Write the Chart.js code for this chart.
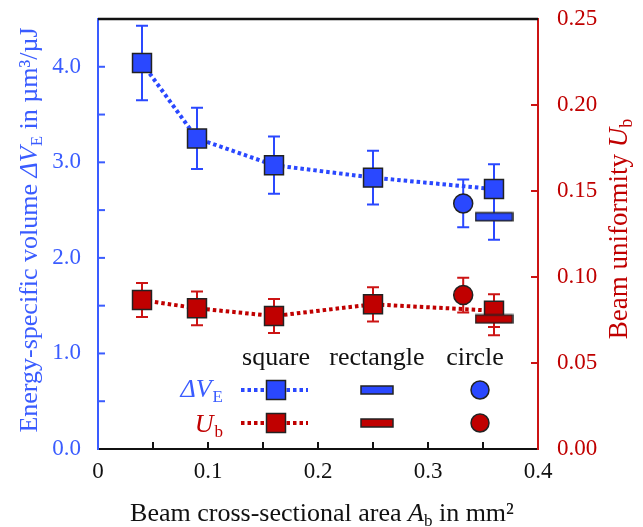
<!DOCTYPE html>
<html>
<head>
<meta charset="utf-8">
<script src="https://cdn.jsdelivr.net/npm/chart.js@4.4.0/dist/chart.umd.min.js"></script>
<style>
  html, body { margin: 0; padding: 0; background: #fff; }
  #wrap { width: 643px; height: 527px; }
</style>
</head>
<body>
<div id="wrap"><canvas id="chart" width="643" height="527"></canvas></div>
<script>
// beam cross-sectional area A_b in mm^2
const areaSquare = [0.04, 0.09, 0.16, 0.25, 0.36];
const areaRect = [0.36];
const areaCircle = [0.332];

// energy-specific volume dV_E in um^3/uJ (left axis)
const volSquare = [4.04, 3.25, 2.97, 2.84, 2.72];
const volSquareErr = [0.39, 0.32, 0.30, 0.28, 0.26];
const volRect = [2.43];
const volRectErr = [0.24];
const volCircle = [2.57];
const volCircleErr = [0.25];

// beam uniformity U_b (right axis)
const uniSquare = [0.0866, 0.0818, 0.0773, 0.0841, 0.0804];
const uniSquareErr = [0.0099, 0.0098, 0.0099, 0.0099, 0.0095];
const uniRect = [0.0756];
const uniRectErr = [0.0095];
const uniCircle = [0.0895];
const uniCircleErr = [0.0101];

// tick labels
const xTickLabels = ['0', '0.1', '0.2', '0.3', '0.4'];
const leftTickLabels = ['0.0', '1.0', '2.0', '3.0', '4.0'];
const rightTickLabels = ['0.00', '0.05', '0.10', '0.15', '0.20', '0.25'];

const BLUE = '#2a48ff';
const BLUE_TXT = '#3a5cff';
const RED = '#c00000';
const RED_AX = '#cc1414';
const EDGE = '#222';
const SERIF = '"Liberation Serif", "Times New Roman", serif';
const PLOT_TOP = 19;

function pts(xs, ys) {
  return xs.map((x, i) => ({ x: x, y: ys[i] }));
}

function barMarker(fill) {
  const c = document.createElement('canvas');
  c.width = 39; c.height = 11;
  const g = c.getContext('2d');
  g.fillStyle = fill;
  g.strokeStyle = EDGE;
  g.lineWidth = 1.5;
  g.fillRect(1, 1.5, 37, 8);
  g.strokeRect(1, 1.5, 37, 8);
  return c;
}

// draws a line of text made of parts with different fonts (sub/superscripts)
function richText(ctx, parts, x, y, align, angle) {
  ctx.save();
  ctx.translate(x, y);
  ctx.rotate(angle || 0);
  ctx.textBaseline = 'alphabetic';
  ctx.textAlign = 'left';
  let total = 0;
  parts.forEach(p => { ctx.font = p.font; total += ctx.measureText(p.text).width + (p.gap || 0); });
  let cx = align === 'center' ? -total / 2 : (align === 'right' ? -total : 0);
  parts.forEach(p => {
    ctx.font = p.font;
    ctx.fillStyle = p.color;
    ctx.fillText(p.text, cx, p.dy || 0);
    cx += ctx.measureText(p.text).width + (p.gap || 0);
  });
  ctx.restore();
}

// keep the axes from reserving extra room for overhanging tick labels
function fixWidth(w) {
  return function(s) {
    s.width = w;
    s.paddingTop = 0;
    s.paddingBottom = 0;
  };
}

const errorBars = {
  id: 'errorBars',
  beforeDatasetsDraw(chart) {
    const ctx = chart.ctx;
    chart.data.datasets.forEach((ds, i) => {
      if (!ds.errors) return;
      const meta = chart.getDatasetMeta(i);
      const ys = chart.scales[ds.yAxisID];
      ctx.save();
      ctx.strokeStyle = ds.errorColor;
      ctx.lineWidth = 2;
      meta.data.forEach((pt, j) => {
        const v = ds.data[j].y, e = ds.errors[j];
        const top = ys.getPixelForValue(v + e);
        const bot = ys.getPixelForValue(v - e);
        const x = pt.x;
        ctx.beginPath();
        ctx.moveTo(x, top); ctx.lineTo(x, bot);
        ctx.moveTo(x - 6, top); ctx.lineTo(x + 6, top);
        ctx.moveTo(x - 6, bot); ctx.lineTo(x + 6, bot);
        ctx.stroke();
      });
      ctx.restore();
    });
  }
};

const frame = {
  id: 'frame',
  afterDraw(chart) {
    const { ctx, chartArea: a, scales } = chart;
    ctx.save();
    // top border
    ctx.strokeStyle = '#111';
    ctx.lineWidth = 2.5;
    ctx.beginPath(); ctx.moveTo(a.left, a.top); ctx.lineTo(a.right, a.top); ctx.stroke();

    // inward ticks
    ctx.lineWidth = 2;
    const tick = (x1, y1, x2, y2, col) => {
      ctx.strokeStyle = col;
      ctx.beginPath(); ctx.moveTo(x1, y1); ctx.lineTo(x2, y2); ctx.stroke();
    };
    scales.x.ticks.forEach((t, i, arr) => {
      if (i === 0 || i === arr.length - 1) return;
      const p = scales.x.getPixelForValue(t.value);
      tick(p, a.bottom, p, a.bottom - 7, '#111');
    });
    scales.y.ticks.forEach((t, i, arr) => {
      if (i === 0 || i === arr.length - 1) return;
      const p = scales.y.getPixelForValue(t.value);
      tick(a.left, p, a.left + 7, p, BLUE_TXT);
    });
    scales.y2.ticks.forEach((t, i, arr) => {
      if (i === 0 || i === arr.length - 1) return;
      const p = scales.y2.getPixelForValue(t.value);
      tick(a.right, p, a.right - 7, p, RED_AX);
    });

    // axis titles
    const f = (s, st) => (st || '') + ' ' + s + 'px ' + SERIF;
    richText(ctx, [
      { text: 'Energy-specific volume ', font: f(26), color: BLUE_TXT },
      { text: '\u0394V', font: f(26, 'italic'), color: BLUE_TXT },
      { text: 'E', font: f(17), color: BLUE_TXT, dy: 5 },
      { text: ' in \u00b5m\u00b3/\u00b5J', font: f(26), color: BLUE_TXT }
    ], 37, (a.top + a.bottom) / 2 - 4, 'center', -Math.PI / 2);
    richText(ctx, [
      { text: 'Beam uniformity ', font: f(27), color: RED },
      { text: 'U', font: f(27, 'italic'), color: RED },
      { text: 'b', font: f(18), color: RED, dy: 5 }
    ], 627, (a.top + a.bottom) / 2 - 5, 'center', -Math.PI / 2);
    richText(ctx, [
      { text: 'Beam cross-sectional area ', font: f(26), color: '#111' },
      { text: 'A', font: f(26, 'italic'), color: '#111' },
      { text: 'b', font: f(17), color: '#111', dy: 5 },
      { text: ' in mm\u00b2', font: f(26), color: '#111' }
    ], (a.left + a.right) / 2 + 4, 521, 'center', 0);

    // legend table
    const hx = [276, 377, 480];
    ctx.fillStyle = '#111';
    ctx.font = f(26);
    ctx.textAlign = 'center';
    ctx.textBaseline = 'alphabetic';
    ctx.fillText('square', hx[0], 365);
    ctx.fillText('rectangle', hx[1], 365);
    ctx.fillText('circle', hx[2] - 5, 365);

    richText(ctx, [
      { text: '\u0394V', font: f(26, 'italic'), color: BLUE_TXT, gap: 1 },
      { text: 'E', font: f(17), color: BLUE_TXT, dy: 5 }
    ], 223, 397, 'right', 0);
    richText(ctx, [
      { text: 'U', font: f(26, 'italic'), color: RED, gap: 1 },
      { text: 'b', font: f(17), color: RED, dy: 5 }
    ], 223, 432, 'right', 0);

    const rows = [[390, BLUE], [423, RED]];
    rows.forEach(r => {
      const y = r[0], col = r[1];
      ctx.strokeStyle = col;
      ctx.lineWidth = 4;
      ctx.setLineDash([3.5, 3]);
      ctx.beginPath(); ctx.moveTo(241, y); ctx.lineTo(308, y); ctx.stroke();
      ctx.setLineDash([]);
      ctx.fillStyle = col;
      ctx.strokeStyle = EDGE;
      ctx.lineWidth = 1.5;
      ctx.fillRect(hx[0] - 9.5, y - 9.5, 19, 19);
      ctx.strokeRect(hx[0] - 9.5, y - 9.5, 19, 19);
      ctx.fillRect(hx[1] - 16, y - 4, 32, 8);
      ctx.strokeRect(hx[1] - 16, y - 4, 32, 8);
      ctx.beginPath(); ctx.arc(hx[2], y, 9, 0, Math.PI * 2); ctx.fill(); ctx.stroke();
    });
    ctx.restore();
  }
};

const tickFont = { family: SERIF, size: 23 };

const chart = new Chart(document.getElementById('chart'), {
  type: 'scatter',
  data: {
    datasets: [
      {
        data: pts(areaRect, volRect), yAxisID: 'y', order: 0,
        pointStyle: barMarker(BLUE), pointRadius: 10,
        errors: volRectErr, errorColor: BLUE
      },
      {
        data: pts(areaCircle, volCircle), yAxisID: 'y', order: 0,
        pointStyle: 'circle', pointRadius: 9.5,
        pointBackgroundColor: BLUE, pointBorderColor: EDGE, pointBorderWidth: 1.5,
        errors: volCircleErr, errorColor: BLUE
      },
      {
        data: pts(areaSquare, volSquare), yAxisID: 'y', order: 1,
        showLine: true, borderColor: BLUE, borderWidth: 4, borderDash: [3.5, 3],
        pointStyle: 'rect', pointRadius: 13.4,
        pointBackgroundColor: BLUE, pointBorderColor: EDGE, pointBorderWidth: 1.5,
        errors: volSquareErr, errorColor: BLUE
      },
      {
        data: pts(areaRect, uniRect), yAxisID: 'y2', order: 0,
        pointStyle: barMarker(RED), pointRadius: 10,
        errors: uniRectErr, errorColor: RED_AX
      },
      {
        data: pts(areaCircle, uniCircle), yAxisID: 'y2', order: 0,
        pointStyle: 'circle', pointRadius: 9.5,
        pointBackgroundColor: RED, pointBorderColor: EDGE, pointBorderWidth: 1.5,
        errors: uniCircleErr, errorColor: RED_AX
      },
      {
        data: pts(areaSquare, uniSquare), yAxisID: 'y2', order: 1,
        showLine: true, borderColor: RED, borderWidth: 4, borderDash: [3.5, 3],
        pointStyle: 'rect', pointRadius: 13.4,
        pointBackgroundColor: RED, pointBorderColor: EDGE, pointBorderWidth: 1.5,
        errors: uniSquareErr, errorColor: RED_AX
      }
    ]
  },
  options: {
    responsive: false,
    animation: false,
    layout: { padding: { top: PLOT_TOP, left: 0, right: 0, bottom: 0 } },
    plugins: {
      legend: { display: false },
      tooltip: { enabled: false }
    },
    scales: {
      x: {
        type: 'linear', min: 0, max: 0.4,
        afterFit: function(s) { s.height = 78; s.paddingLeft = 0; s.paddingRight = 0; },
        grid: { display: false, drawTicks: false },
        border: { color: '#111', width: 2 },
        ticks: {
          stepSize: 0.05, autoSkip: false, maxRotation: 0, padding: 9,
          color: '#111', font: tickFont,
          callback: function(v, i) { return i % 2 === 0 ? xTickLabels[i / 2] : ''; }
        }
      },
      y: {
        type: 'linear', position: 'left', min: 0, max: 4.5,
        afterFit: fixWidth(98),
        grid: { display: false, drawTicks: false },
        border: { color: BLUE_TXT, width: 2 },
        ticks: {
          stepSize: 0.5, autoSkip: false, padding: 17,
          color: BLUE_TXT, font: tickFont,
          callback: function(v, i) { return i % 2 === 0 ? leftTickLabels[i / 2] : ''; }
        }
      },
      y2: {
        type: 'linear', position: 'right', min: 0, max: 0.25,
        afterFit: fixWidth(105),
        grid: { display: false, drawTicks: false },
        border: { color: RED_AX, width: 2 },
        ticks: {
          stepSize: 0.05, autoSkip: false, padding: 19,
          color: RED, font: tickFont,
          callback: function(v, i) { return rightTickLabels[i]; }
        }
      }
    }
  },
  plugins: [errorBars, frame]
});

// if the plot area still sits lower than wanted, shrink the top padding
const shift = chart.chartArea.top - PLOT_TOP;
if (Math.abs(shift) > 0.5) {
  chart.config.options.layout.padding.top = Math.max(0, PLOT_TOP - shift);
  chart.update();
}
</script>
</body>
</html>
